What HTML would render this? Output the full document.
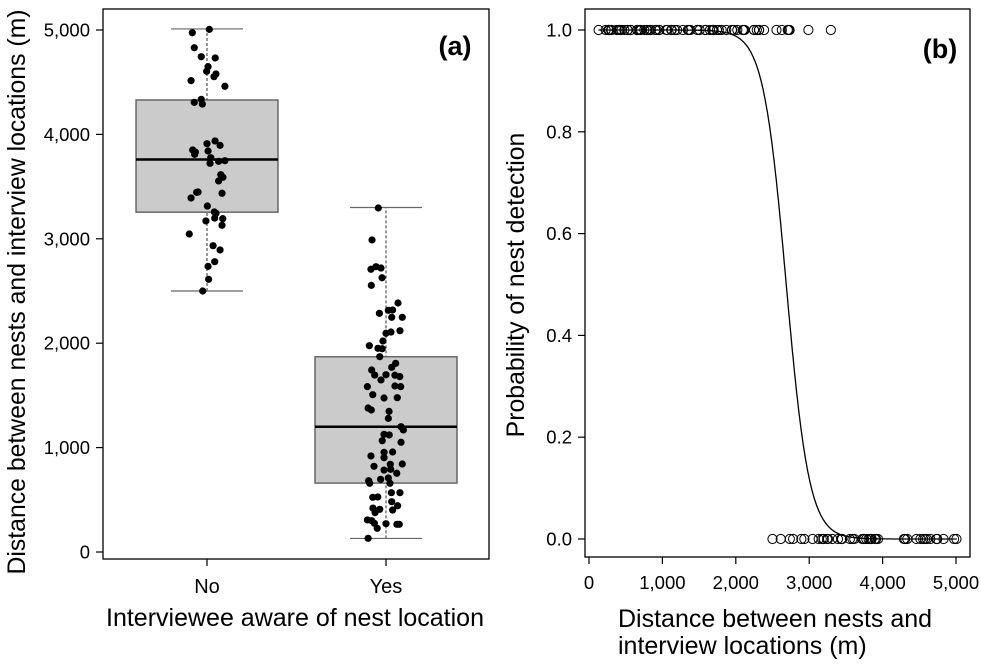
<!DOCTYPE html>
<html><head><meta charset="utf-8"><style>
html,body{margin:0;padding:0;background:#fff;}
svg{display:block;font-family:"Liberation Sans",Arial,sans-serif;}
</style></head><body>
<svg id="fig" width="981" height="667" viewBox="0 0 981 667">
<g id="pa"></g>
<g id="pb"></g>
</svg>
<script>
// ---- data ----
const categories = ["No", "Yes"];
const noValues = [4974,5006,4830,4744,4732,4649,4604,4579,4553,4515,4461,4307,4336,4291,3911,3937,3895,3851,3831,3809,3841,3777,3723,3742,3748,3614,3589,3554,3445,3448,3391,3436,3314,3257,3244,3199,3171,3193,3129,3046,2934,2893,2781,2736,2612,2500];
const noJitter = [-0.082,0.013,-0.071,-0.032,0.046,0.006,-0.002,0.05,0.039,-0.089,0.1,-0.071,-0.032,-0.026,0,0.045,0.073,-0.08,-0.065,-0.069,0.006,0.021,0.017,0.065,0.1,0.077,0.089,0.065,-0.058,-0.05,-0.089,0.084,0.002,0.041,0.05,0.043,-0.006,0.088,0.084,-0.099,0.034,0.073,0.043,0.006,0.009,-0.024];
const yesValues = [3295,2989,2708,2733,2720,2627,2554,2385,2315,2318,2286,2248,2248,2120,2107,2095,2021,1976,1951,1947,1871,1807,1769,1743,1695,1698,1693,1680,1648,1584,1590,1584,1507,1475,1478,1379,1360,1347,1280,1200,1169,1127,1121,1066,1051,955,958,920,903,821,840,843,785,792,754,683,696,709,658,658,568,568,524,527,482,443,421,409,402,377,307,300,275,271,265,265,227,131];
const yesJitter = [-0.043,-0.078,-0.084,-0.056,-0.028,-0.022,-0.082,0.067,0.013,0.037,-0.037,0.091,0.032,0.078,0.028,0,-0.017,-0.093,-0.045,-0.021,-0.035,0.054,0.032,-0.08,-0.063,0,0.05,0.077,-0.028,-0.104,0.05,0.082,-0.074,-0.011,0.063,-0.1,-0.082,0.017,0.013,0.084,0.097,-0.011,0.018,-0.021,0.084,-0.011,0.037,-0.084,-0.011,-0.067,0.024,0.091,-0.011,0.026,0.06,-0.097,-0.03,0.013,-0.091,0.022,0.03,0.078,-0.074,-0.046,0.032,0.065,-0.073,-0.035,0.037,-0.061,-0.104,-0.08,-0.065,0,0.061,0.074,-0.049,-0.1];
const boxStats = [ // [lowWhisker, q1, median, q3, highWhisker]
  [2500, 3255, 3760, 4330, 5010],
  [130, 660, 1200, 1870, 3300]
];
const yTicksA = [0,1000,2000,3000,4000,5000];
const yTickLabelsA = ["0","1,000","2,000","3,000","4,000","5,000"];
const xTicksB = [0,1000,2000,3000,4000,5000];
const xTickLabelsB = ["0","1,000","2,000","3,000","4,000","5,000"];
const yTicksB = [0,0.2,0.4,0.6,0.8,1.0];
const yTickLabelsB = ["0.0","0.2","0.4","0.6","0.8","1.0"];
const logitCoef = [17.2, -0.0064]; // intercept, slope

const NS="http://www.w3.org/2000/svg";
function mk(parent,tag,attrs,text){const e=document.createElementNS(NS,tag);for(const k in attrs)e.setAttribute(k,attrs[k]);if(text!==undefined)e.textContent=text;parent.appendChild(e);return e;}

// ---- panel a ----
const pa=document.getElementById('pa');
const A={l:103,r:489,t:9,b:559};
const ya=v=>552-v*0.1044;
const xa=c=>207+c*179;
for(let i=0;i<2;i++){
  const s=boxStats[i],cx=xa(i);
  const wl=mk(pa,'line',{x1:cx,x2:cx,y1:ya(s[0]),y2:ya(s[4]),stroke:'#333','stroke-width':1,'stroke-dasharray':'3,2'});
  
  
  const bx=mk(pa,'rect',{x:cx-71,y:ya(s[3]),width:142,height:ya(s[1])-ya(s[3]),fill:'#cbcbcb',stroke:'#555','stroke-width':1.3});
  
  
  const md=mk(pa,'line',{x1:cx-71,x2:cx+71,y1:ya(s[2]),y2:ya(s[2]),stroke:'#000','stroke-width':2.5});
  
  
  [s[0],s[4]].forEach(v=>{
    const cp=mk(pa,'line',{x1:cx-36,x2:cx+36,y1:ya(v),y2:ya(v),stroke:'#666','stroke-width':1.2});
    
    
  });
}
function dots(vals,jit,ci){
  vals.forEach((v,i)=>{
    const c=mk(pa,'circle',{cx:xa(ci+jit[i]),cy:ya(v),r:3.6,fill:'#000'});
    
    
  });
}
dots(noValues,noJitter,0);dots(yesValues,yesJitter,1);
mk(pa,'rect',{x:A.l,y:A.t,width:A.r-A.l,height:A.b-A.t,fill:'none',stroke:'#000','stroke-width':1.3,});
yTicksA.forEach((v,i)=>{
  mk(pa,'line',{x1:96,x2:A.l,y1:ya(v),y2:ya(v),stroke:'#000','stroke-width':1.2});
  const t=mk(pa,'text',{x:90,y:ya(v)+6.5,'text-anchor':'end','font-size':18.5},yTickLabelsA[i]);
  
  
});
categories.forEach((c,i)=>{
  mk(pa,'line',{x1:xa(i),x2:xa(i),y1:A.b,y2:A.b+7,stroke:'#000','stroke-width':1.2});
  const t=mk(pa,'text',{x:xa(i),y:593,'text-anchor':'middle','font-size':20},c);
  
  
});
mk(pa,'text',{x:295,y:626,'text-anchor':'middle','font-size':25,},'Interviewee aware of nest location');
mk(pa,'text',{x:0,y:0,'text-anchor':'middle','font-size':24.8,transform:'translate(25,292) rotate(-90)',},'Distance between nests and interview locations (m)');
mk(pa,'text',{x:455,y:55,'text-anchor':'middle','font-size':27,'font-weight':'bold',},'(a)');

// ---- panel b ----
const pb=document.getElementById('pb');
const B={l:585,r:970,t:9,b:557};
const xb=v=>589+v*0.0734;
const yb=p=>539-p*509;
let d='';
for(let v=130;v<=5010;v+=10){const p=1/(1+Math.exp(-(logitCoef[0]+logitCoef[1]*v)));d+=(d?'L':'M')+xb(v).toFixed(1)+','+yb(p).toFixed(1);}
mk(pb,'path',{d:d,fill:'none',stroke:'#000','stroke-width':1.3,});
yesValues.forEach(v=>{
  const c=mk(pb,'circle',{cx:xb(v),cy:yb(1),r:4.6,fill:'none',stroke:'#000','stroke-width':1});
  
  
});
noValues.forEach(v=>{
  const c=mk(pb,'circle',{cx:xb(v),cy:yb(0),r:4.6,fill:'none',stroke:'#000','stroke-width':1});
  
  
});
mk(pb,'rect',{x:B.l,y:B.t,width:B.r-B.l,height:B.b-B.t,fill:'none',stroke:'#000','stroke-width':1.3,});
yTicksB.forEach((v,i)=>{
  mk(pb,'line',{x1:578,x2:B.l,y1:yb(v),y2:yb(v),stroke:'#000','stroke-width':1.2});
  const t=mk(pb,'text',{x:572,y:yb(v)+6.5,'text-anchor':'end','font-size':18.5},yTickLabelsB[i]);
  
  
});
xTicksB.forEach((v,i)=>{
  mk(pb,'line',{x1:xb(v),x2:xb(v),y1:B.b,y2:B.b+7,stroke:'#000','stroke-width':1.2});
  const t=mk(pb,'text',{x:xb(v),y:589,'text-anchor':'middle','font-size':18.5},xTickLabelsB[i]);
  
  
});
mk(pb,'text',{x:618,y:627,'font-size':25,},'Distance between nests and');
mk(pb,'text',{x:618,y:654,'font-size':25,},'interview locations (m)');
mk(pb,'text',{x:0,y:0,'text-anchor':'middle','font-size':24.8,transform:'translate(524,285) rotate(-90)',},'Probability of nest detection');
mk(pb,'text',{x:940,y:58,'text-anchor':'middle','font-size':27,'font-weight':'bold',},'(b)');
</script>
</body></html>
